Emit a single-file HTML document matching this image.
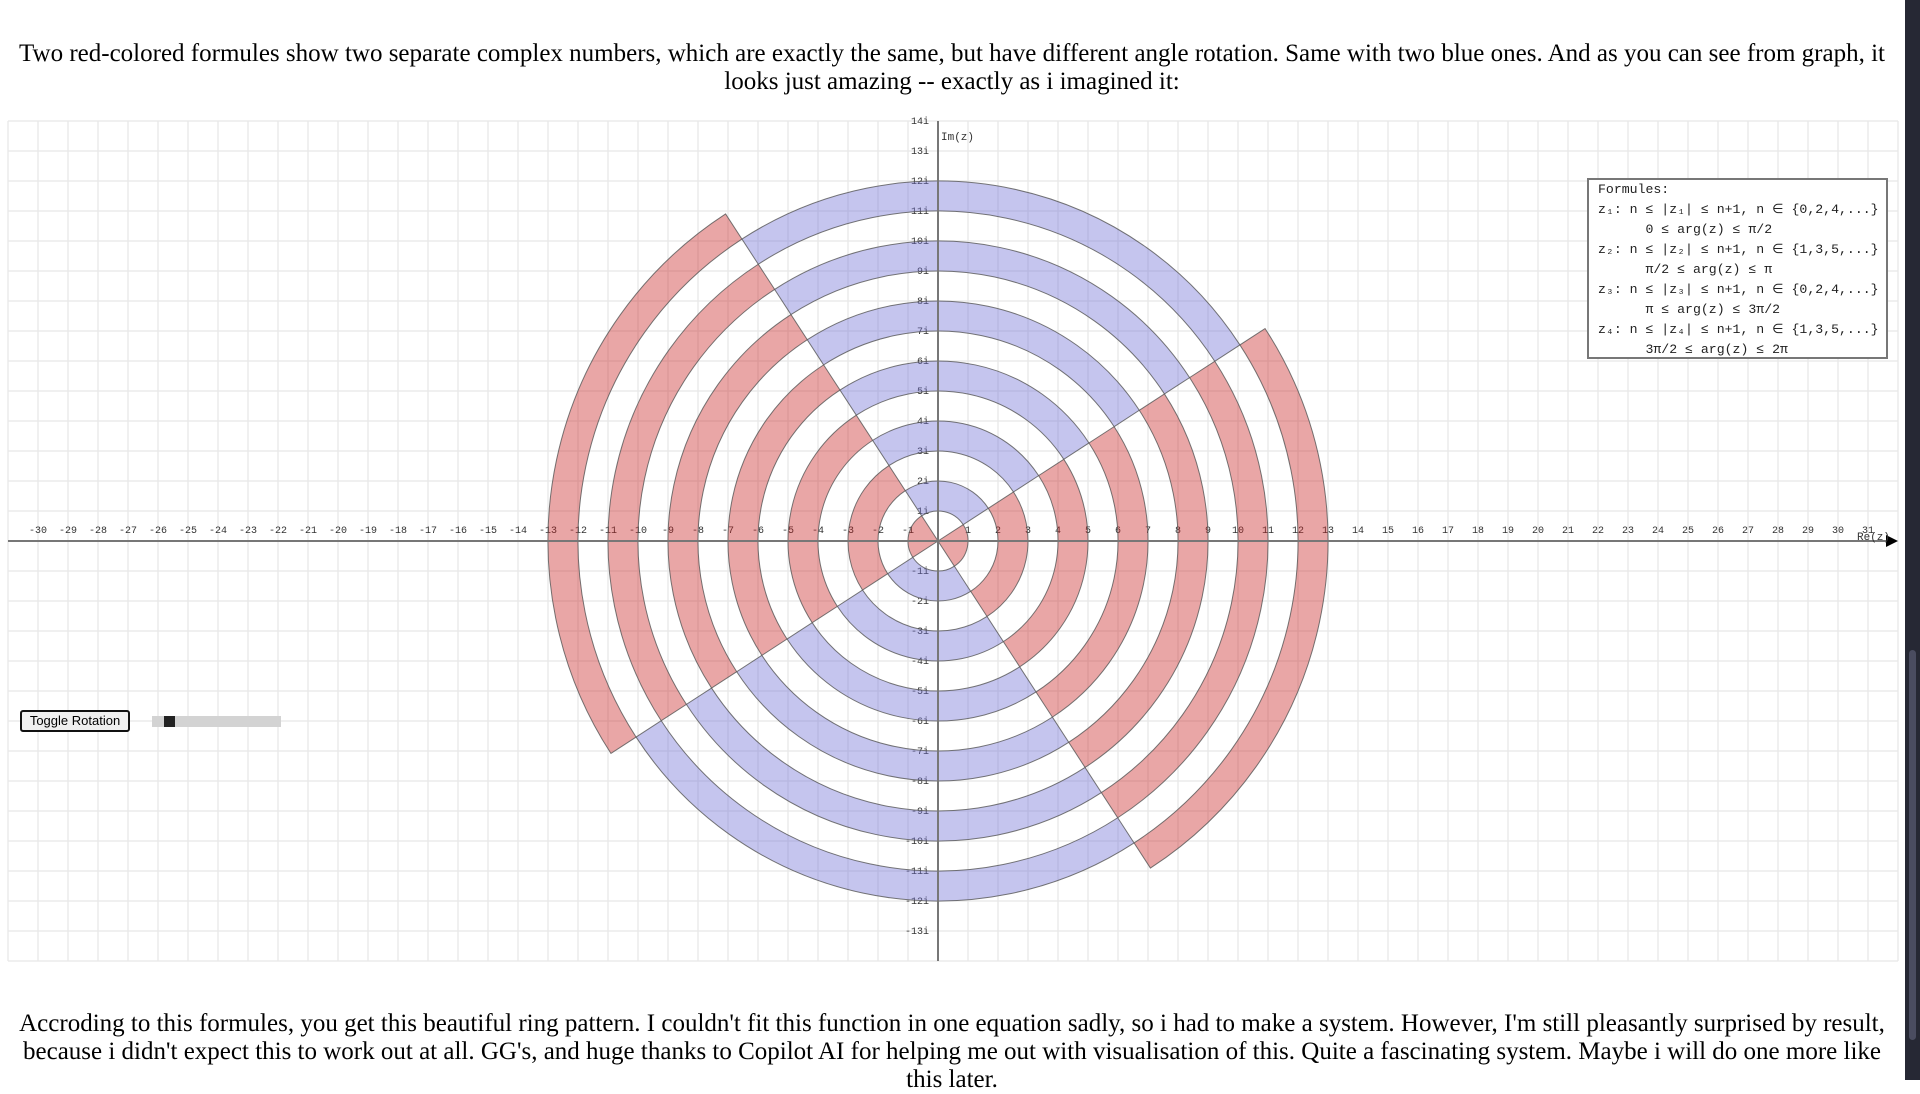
<!DOCTYPE html>
<html><head><meta charset="utf-8">
<style>
html,body{margin:0;padding:0;width:1920px;height:1080px;overflow:hidden;background:#fff;}
.p{position:absolute;left:12px;width:1880px;text-align:center;font-family:"Liberation Serif",serif;font-size:25px;line-height:28px;color:#000;}
svg{position:absolute;left:0;top:0;}
.btn{position:absolute;left:20px;top:710px;width:106px;height:18px;border:2px solid #111;border-radius:3px;background:#efefef;font-family:"Liberation Sans",sans-serif;font-size:13px;line-height:18px;text-align:center;color:#000;}
.track{position:absolute;left:152px;top:716px;width:129px;height:11px;background:#d3d3d3;}
.thumb{position:absolute;left:164px;top:716px;width:11px;height:11px;background:#222;}
.sb{position:absolute;left:1905px;top:0;width:15px;height:1080px;background:#262834;}
.sbt{position:absolute;left:1909px;top:650px;width:7px;height:390px;background:#4a4c60;border-radius:4px;}
.leg{position:absolute;left:1587px;top:178px;width:301px;height:181px;border:2px solid #777;background:#fff;font-family:"Liberation Mono",monospace;font-size:13.2px;line-height:20px;color:#222;white-space:pre;padding:0 0 0 9px;box-sizing:border-box;}
</style></head><body>
<div class="p" style="top:40px">Two red-colored formules show two separate complex numbers, which are exactly the same, but have different angle rotation. Same with two blue ones. And as you can see from graph, it<br>looks just amazing -- exactly as i imagined it:</div>

<svg width="1920" height="1080" xmlns="http://www.w3.org/2000/svg">
<g id="grid" stroke="#e8e8e8" stroke-width="1.3"></g>
<g font-family="Liberation Mono, monospace" font-size="10" fill="#333" text-anchor="middle">
<text x="38" y="533">-30</text><text x="68" y="533">-29</text><text x="98" y="533">-28</text><text x="128" y="533">-27</text><text x="158" y="533">-26</text><text x="188" y="533">-25</text><text x="218" y="533">-24</text><text x="248" y="533">-23</text><text x="278" y="533">-22</text><text x="308" y="533">-21</text><text x="338" y="533">-20</text><text x="368" y="533">-19</text><text x="398" y="533">-18</text><text x="428" y="533">-17</text><text x="458" y="533">-16</text><text x="488" y="533">-15</text><text x="518" y="533">-14</text><text x="548" y="533">-13</text><text x="578" y="533">-12</text><text x="608" y="533">-11</text><text x="638" y="533">-10</text><text x="668" y="533">-9</text><text x="698" y="533">-8</text><text x="728" y="533">-7</text><text x="758" y="533">-6</text><text x="788" y="533">-5</text><text x="818" y="533">-4</text><text x="848" y="533">-3</text><text x="878" y="533">-2</text><text x="908" y="533">-1</text>
<text x="968" y="533">1</text><text x="998" y="533">2</text><text x="1028" y="533">3</text><text x="1058" y="533">4</text><text x="1088" y="533">5</text><text x="1118" y="533">6</text><text x="1148" y="533">7</text><text x="1178" y="533">8</text><text x="1208" y="533">9</text><text x="1238" y="533">10</text><text x="1268" y="533">11</text><text x="1298" y="533">12</text><text x="1328" y="533">13</text><text x="1358" y="533">14</text><text x="1388" y="533">15</text><text x="1418" y="533">16</text><text x="1448" y="533">17</text><text x="1478" y="533">18</text><text x="1508" y="533">19</text><text x="1538" y="533">20</text><text x="1568" y="533">21</text><text x="1598" y="533">22</text><text x="1628" y="533">23</text><text x="1658" y="533">24</text><text x="1688" y="533">25</text><text x="1718" y="533">26</text><text x="1748" y="533">27</text><text x="1778" y="533">28</text><text x="1808" y="533">29</text><text x="1838" y="533">30</text><text x="1868" y="533">31</text>
</g>
<g font-family="Liberation Mono, monospace" font-size="10" fill="#333" text-anchor="end">
<text x="929" y="124">14i</text><text x="929" y="154">13i</text><text x="929" y="184">12i</text><text x="929" y="214">11i</text><text x="929" y="244">10i</text><text x="929" y="274">9i</text><text x="929" y="304">8i</text><text x="929" y="334">7i</text><text x="929" y="364">6i</text><text x="929" y="394">5i</text><text x="929" y="424">4i</text><text x="929" y="454">3i</text><text x="929" y="484">2i</text><text x="929" y="514">1i</text>
<text x="929" y="574">-1i</text><text x="929" y="604">-2i</text><text x="929" y="634">-3i</text><text x="929" y="664">-4i</text><text x="929" y="694">-5i</text><text x="929" y="724">-6i</text><text x="929" y="754">-7i</text><text x="929" y="784">-8i</text><text x="929" y="814">-9i</text><text x="929" y="844">-10i</text><text x="929" y="874">-11i</text><text x="929" y="904">-12i</text><text x="929" y="934">-13i</text>
</g>
<g id="rings" stroke="#555" stroke-width="1" stroke-opacity="0.8"></g>
<line x1="8" y1="541" x2="1888" y2="541" stroke="#777" stroke-width="2"/>
<polygon points="1886,535 1898,541 1886,547" fill="#000"/>
<line x1="938" y1="121" x2="938" y2="961" stroke="#777" stroke-width="2"/>
<text x="1857" y="540" font-family="Liberation Mono, monospace" font-size="11" fill="#333">Re(z)</text>
<text x="941" y="140" font-family="Liberation Mono, monospace" font-size="11" fill="#333">Im(z)</text>
</svg>

<div class="leg">Formules:
z₁: n ≤ |z₁| ≤ n+1, n ∈ {0,2,4,...}
      0 ≤ arg(z) ≤ π/2
z₂: n ≤ |z₂| ≤ n+1, n ∈ {1,3,5,...}
      π/2 ≤ arg(z) ≤ π
z₃: n ≤ |z₃| ≤ n+1, n ∈ {0,2,4,...}
      π ≤ arg(z) ≤ 3π/2
z₄: n ≤ |z₄| ≤ n+1, n ∈ {1,3,5,...}
      3π/2 ≤ arg(z) ≤ 2π</div>

<div class="btn">Toggle Rotation</div>
<div class="track"></div><div class="thumb"></div>

<div class="p" style="top:1010px">Accroding to this formules, you get this beautiful ring pattern. I couldn't fit this function in one equation sadly, so i had to make a system. However, I'm still pleasantly surprised by result,<br>because i didn't expect this to work out at all. GG's, and huge thanks to Copilot AI for helping me out with visualisation of this. Quite a fascinating system. Maybe i will do one more like<br>this later.</div>

<div class="sb"></div><div class="sbt"></div>

<script>
(function(){
var NS="http://www.w3.org/2000/svg";
var g=document.getElementById('grid');
for(var k=-31;k<=32;k++){var x=938+30*k;var l=document.createElementNS(NS,'line');l.setAttribute('x1',x);l.setAttribute('x2',x);l.setAttribute('y1',121);l.setAttribute('y2',961);g.appendChild(l);}
for(var k=-14;k<=14;k++){var y=541+30*k;var l=document.createElementNS(NS,'line');l.setAttribute('x1',8);l.setAttribute('x2',1898);l.setAttribute('y1',y);l.setAttribute('y2',y);g.appendChild(l);}
var r=document.getElementById('rings');
var cx=938,cy=541,u=30;
function pt(rad,a){var t=a*Math.PI/180;return [(cx+rad*u*Math.cos(t)).toFixed(2),(cy-rad*u*Math.sin(t)).toFixed(2)];}
function sector(n,a0,a1,fill){
 var p0=pt(n+1,a0),p1=pt(n+1,a1),p2=pt(n,a1),p3=pt(n,a0);
 var d='M'+p0+' A'+(n+1)*u+' '+(n+1)*u+' 0 0 0 '+p1+' L'+p2;
 if(n>0) d+=' A'+n*u+' '+n*u+' 0 0 1 '+p3; else d+=' L'+p3;
 d+=' Z';
 var e=document.createElementNS(NS,'path');e.setAttribute('d',d);e.setAttribute('fill',fill);r.appendChild(e);
}
var th=123;
for(var n=0;n<=12;n++){
 if(n%2==0){sector(n,th,th+90,'rgba(200,32,32,0.4)');sector(n,th+180,th+270,'rgba(200,32,32,0.4)');}
 else{sector(n,th-90,th,'rgba(110,110,212,0.4)');sector(n,th+90,th+180,'rgba(110,110,212,0.4)');}
}
})();
</script>
</body></html>
